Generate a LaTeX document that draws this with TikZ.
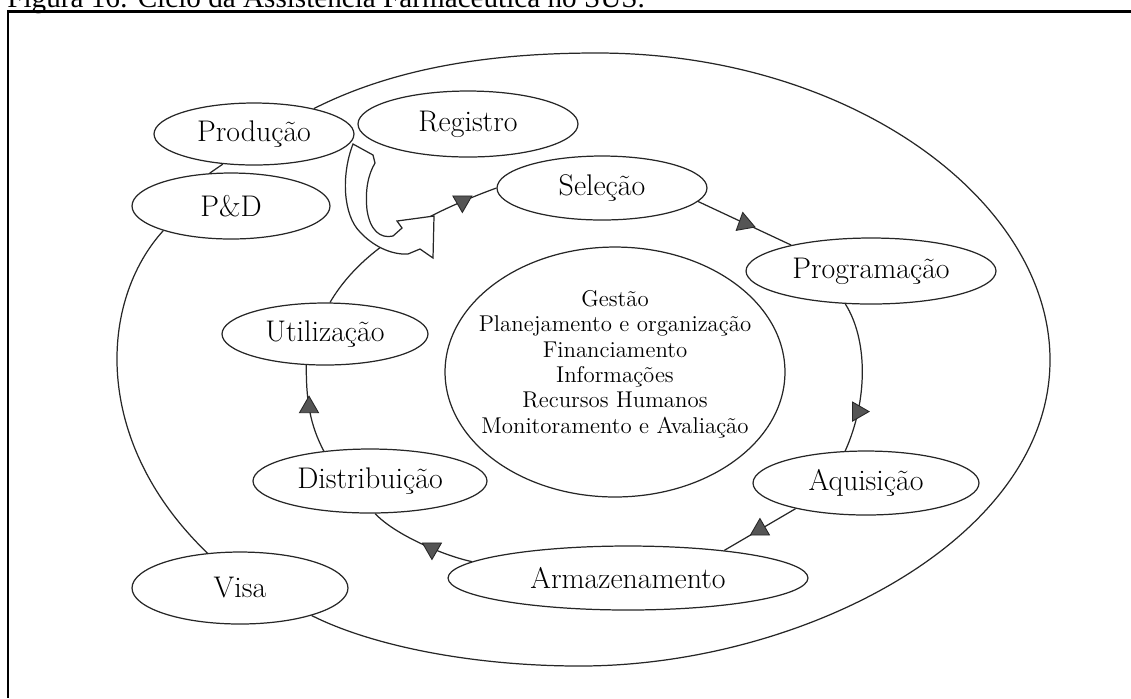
\documentclass[tikz,border=0pt]{standalone}
\usepackage{fontspec}
\newfontfamily\legendafont{Liberation Serif}
\usepackage{tikz}
\usetikzlibrary{shapes.geometric}

\definecolor{pontacinza}{RGB}{85,85,85}
\tikzset{
  etapa/.style={ellipse,draw=black!85,line width=.7pt,inner sep=0pt,font=\fontsize{17}{20}\selectfont},
  ponta/.style={regular polygon,regular polygon sides=3,fill=pontacinza,draw=black!85,line width=.5pt,inner sep=0pt,minimum size=.44cm},
  linha/.style={draw=black!85,line width=.7pt}
}

\begin{document}
\begin{tikzpicture}[x=0.02cm,y=-0.02cm]
\useasboundingbox (0,0) rectangle (1131,698);
\clip (0,0) rectangle (1131,698);
\node[anchor=base west,inner sep=0pt,font=\legendafont\fontsize{16.6}{19}\selectfont] (legenda) at (7,7.5) {Figura 16: Ciclo da Assistência Farmacêutica no SUS.};
\draw[line width=1.4pt] (7,11.5) -- (1131,11.5);
\draw[line width=.7pt] (8,11.5) -- (8,698);

\node[etapa,minimum width=4cm,minimum height=1.24cm] (prod) at (254,134) {Produção};
\node[etapa,minimum width=4.4cm,minimum height=1.32cm] (reg) at (468,124) {Registro};
\node[etapa,minimum width=3.96cm,minimum height=1.32cm] (pd) at (231,206) {P\&D};
\node[etapa,minimum width=4.2cm,minimum height=1.28cm] (sel) at (602,188) {Seleção};
\node[etapa,minimum width=5cm,minimum height=1.32cm] (prog) at (871,271) {Programação};
\node[etapa,minimum width=4.12cm,minimum height=1.24cm] (util) at (325,334) {Utilização};
\node[etapa,minimum width=4.68cm,minimum height=1.28cm] (dist) at (370,481) {Distribuição};
\node[etapa,minimum width=4.52cm,minimum height=1.28cm] (aqu) at (866,483) {Aquisição};
\node[etapa,minimum width=7.2cm,minimum height=1.28cm] (arm) at (628,578) {Armazenamento};
\node[etapa,minimum width=4.32cm,minimum height=1.44cm] (visa) at (240,588) {Visa};
\node[etapa,minimum width=6.8cm,minimum height=5cm] (nucleo) at (615,372) {};
\node[align=center,font=\fontsize{13}{14.4}\selectfont] (temas) at (615,364) {Gestão\\Planejamento e organização\\Financiamento\\Informações\\Recursos Humanos\\Monitoramento e Avaliação};

\draw[linha] (prod.23) .. controls (400,65) and (500,53) .. (597,53) .. controls (850,53) and (1050,200) .. (1050,360) .. controls (1050,540) and (800,666) .. (580,666) .. controls (470,666) and (370,645) .. (visa.-21);
\draw[linha] (pd.-160) .. controls (100,300) and (90,440) .. (visa.133);
\draw[linha] (prod.-136) -- (pd.123);

\draw[linha] (util.81) .. controls (352,265) and (395,225) .. (sel.west) node[ponta,pos=.88,shape border rotate=180] {};
\draw[linha] (sel.-8) -- (prog.162) node[ponta,pos=.5,shape border rotate=10] {};
\draw[linha] (prog.-128) .. controls (868,340) and (868,400) .. (aqu.123) node[ponta,pos=.75,shape border rotate=-90] {};
\draw[linha] (aqu.-160) -- (arm.16) node[ponta,pos=.5] {};
\draw[linha] (arm.174) .. controls (445,556) and (395,535) .. (dist.-81) node[ponta,pos=.4,shape border rotate=180] {};
\draw[linha] (dist.147) .. controls (310,425) and (306,400) .. (util.-121) node[ponta,pos=.55] {};

\filldraw[fill=white,draw=black!85,line width=.7pt] (353,144) .. controls (341,175) and (343,215) .. (360,232) .. controls (372,245) and (390,255) .. (408,254) -- (420,249) -- (433,258) -- (434,216) -- (397,221) -- (402,228) -- (393,236) .. controls (380,239) and (370,230) .. (367,210) .. controls (365,190) and (368,175) .. (375,163) -- (373,155) -- cycle;
\end{tikzpicture}
\end{document}
